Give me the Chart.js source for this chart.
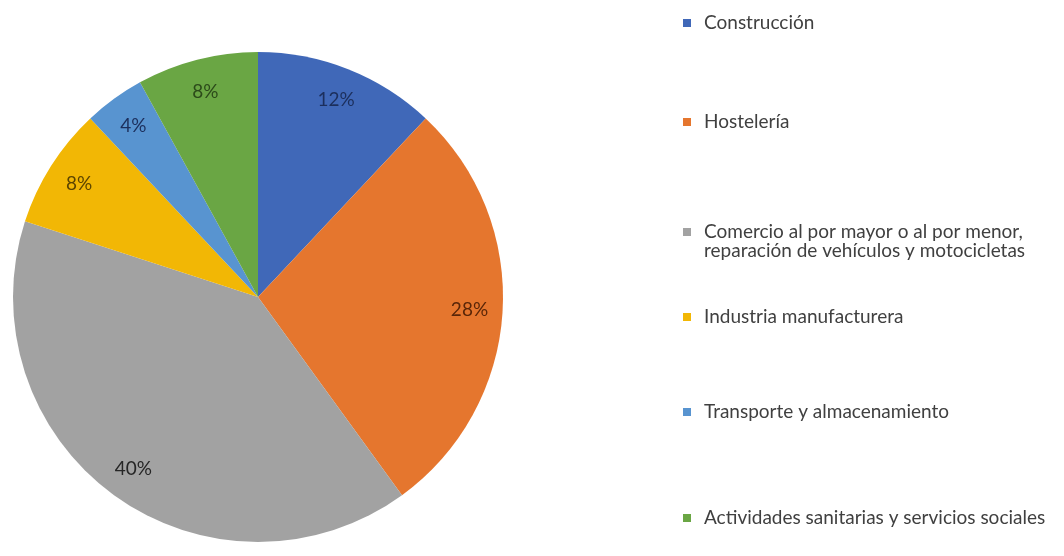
<!DOCTYPE html>
<html>
<head>
<meta charset="utf-8">
<script src="https://cdn.jsdelivr.net/npm/chart.js@4/dist/chart.umd.min.js"></script>
<style>
  html, body { margin: 0; padding: 0; background: #fff; }
  #wrap { position: relative; width: 1064px; height: 556px; }
</style>
</head>
<body>
<div id="wrap"><canvas id="pie"></canvas></div>
<script>
// sectores y porcentajes
const sectores = [
  "Construcción",
  "Hostelería",
  "Comercio al por mayor o al por menor,\nreparación de vehículos y motocicletas",
  "Industria manufacturera",
  "Transporte y almacenamiento",
  "Actividades sanitarias y servicios sociales"
];
const porcentajes = [12, 28, 40, 8, 4, 8];
const colores = ["#4068b8", "#e5762e", "#a2a2a2", "#f2b705", "#5894d0", "#6aa644"];
const coloresTexto = ["#1c2f5c", "#5a2608", "#262626", "#5c4500", "#1c2f5c", "#2c4a1a"];

const fuente = "Lato, 'Open Sans', sans-serif";

// etiquetas de porcentaje dentro de cada sector
const etiquetas = {
  id: "etiquetas",
  afterDatasetsDraw(chart) {
    const ctx = chart.ctx;
    const meta = chart.getDatasetMeta(0);
    ctx.save();
    ctx.font = "19px " + fuente;
    ctx.textAlign = "center";
    ctx.textBaseline = "middle";
    meta.data.forEach((arc, i) => {
      const p = arc.getProps(["x", "y", "startAngle", "endAngle", "outerRadius"], true);
      const a = (p.startAngle + p.endAngle) / 2;
      const r = p.outerRadius * 0.865;
      ctx.fillStyle = coloresTexto[i];
      ctx.fillText(porcentajes[i] + "%", p.x + Math.cos(a) * r, p.y + Math.sin(a) * r);
    });
    ctx.restore();
  }
};

// leyenda a la derecha
const posLeyenda = [23, 122, 232, 317, 412, 518];
const leyenda = {
  id: "leyenda",
  afterDraw(chart) {
    const ctx = chart.ctx;
    ctx.save();
    ctx.font = "19px " + fuente;
    ctx.textBaseline = "middle";
    sectores.forEach((s, i) => {
      const y = posLeyenda[i];
      ctx.fillStyle = colores[i];
      ctx.fillRect(683, y - 4, 8, 8);
      ctx.fillStyle = "#404040";
      s.split("\n").forEach((linea, k) => {
        ctx.fillText(linea, 704, y + k * 19);
      });
    });
    ctx.restore();
  }
};

new Chart(document.getElementById("pie"), {
  type: "pie",
  data: {
    labels: sectores,
    datasets: [{
      data: porcentajes,
      backgroundColor: colores,
      borderWidth: 0
    }]
  },
  options: {
    responsive: true,
    maintainAspectRatio: false,
    animation: false,
    layout: { padding: { left: 13, top: 52, right: 561, bottom: 14 } },
    plugins: {
      legend: { display: false },
      tooltip: { enabled: false }
    }
  },
  plugins: [etiquetas, leyenda]
});
</script>
</body>
</html>
